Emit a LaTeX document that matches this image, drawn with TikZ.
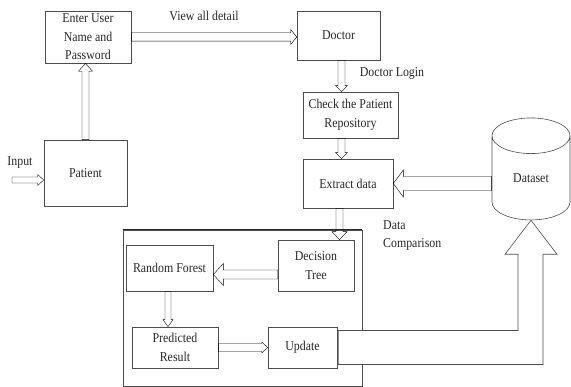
\documentclass[tikz,border=0pt]{standalone}
\usepackage{fontspec}
\setmainfont{Liberation Serif}[FakeStretch=0.88]
\usetikzlibrary{calc,shapes.geometric}

\begin{document}
\begin{tikzpicture}[x=1pt,y=-1pt,every node/.style={font=\fontsize{13.5}{18.5}\selectfont, text=black!85, align=center, inner sep=0pt},box/.style 2 args={draw=black!70, line width=.6pt, minimum width=#1pt, minimum height=#2pt},hollow/.style n args={3}{draw=black!70, line width=.6pt, fill=white, to path={($(\tikztotarget)!#3!(\tikztostart)$) coordinate (hb) ($(\tikztostart)!#1!90:(\tikztotarget)$) -- ($(hb)!#1!-90:(\tikztostart)$) -- ($(hb)!#2!-90:(\tikztostart)$) -- (\tikztotarget) -- ($(hb)!#2!90:(\tikztostart)$) -- ($(hb)!#1!90:(\tikztostart)$) -- ($(\tikztostart)!#1!-90:(\tikztotarget)$) -- cycle}}]
\useasboundingbox (0,0) rectangle (571,387);
% boxes
\node[box={86}{52}] (login) at (88,37) {Enter User\\Name and\\Password};
\node[box={83}{66}] (patient) at (85.5,173) {Patient};
\node[box={83}{49}] (doctor) at (338.5,35.5) {Doctor};
\node[box={95}{46}] (check) at (350.5,115) {Check the Patient\\Repository};
\node[box={90}{49}] (extract) at (348,183.5) {Extract data};
\node[draw=black!70, line width=.6pt, cylinder, shape border rotate=90, aspect=1, minimum width=78pt, minimum height=102pt] (dataset) at (531,178) {Dataset};
\node[box={239}{156}] (mlbox) at (242.5,308) {};
\draw[line width=1pt, black!85] (mlbox.north west) -- (mlbox.north east);
\node[box={76}{51}] (dtree) at (316,265.5) {Decision\\Tree};
\node[box={87}{46}] (rforest) at (169.5,268) {Random Forest};
\node[box={86}{41}] (predicted) at (175,347.5) {Predicted\\Result};
\node[box={69}{41}] (update) at (302.5,347.5) {Update};
% labels
\node (inlbl) at (20,163) {Input};
\node (viewlbl) at (204,16) {View all detail};
\node (loginlbl) at (392,73) {Doctor Login};
\node[align=left, anchor=west] (cmplbl) at (383,235.5) {Data\\Comparison};
% arrow ends
\coordinate (in) at (12,180);
\coordinate (pin) at (in -| patient.west);
\coordinate (p2) at (patient.north |- login.south);
\coordinate (l2) at (login.east -| doctor.west);
\coordinate (d1) at ([xshift=3pt]doctor.south);
\coordinate (d2) at (d1 |- check.north);
\coordinate (c1) at (d1 |- check.south);
\coordinate (c2) at (d1 |- extract.north);
\coordinate (s1) at (dataset.west |- extract.east);
\coordinate (e1) at ([xshift=-8.5pt]extract.south);
\coordinate (e2) at (e1 |- dtree.north);
\coordinate (t1) at ([yshift=-9pt]dtree.west);
\coordinate (t2) at (t1 -| rforest.east);
\coordinate (r1) at ([xshift=-1.5pt]rforest.south);
\coordinate (r2) at (r1 |- predicted.north);
\coordinate (u2) at (predicted.east -| update.west);
% arrows
\draw (in) to[hollow={3pt}{5.5pt}{6pt}] (pin);
\draw (patient.north) to[hollow={3.5pt}{7pt}{8pt}] (p2);
\draw (login.east) to[hollow={4.2pt}{7.5pt}{6pt}] (l2);
\draw (d1) to[hollow={3.5pt}{6pt}{6pt}] (d2);
\draw (c1) to[hollow={3.5pt}{6pt}{6pt}] (c2);
\draw (s1) to[hollow={7pt}{13.5pt}{10pt}] (extract.east);
\draw (e1) to[hollow={3.5pt}{7.5pt}{8pt}] (e2);
\draw (t1) to[hollow={4.5pt}{11pt}{10pt}] (t2);
\draw (r1) to[hollow={3pt}{5pt}{7pt}] (r2);
\draw (predicted.east) to[hollow={4pt}{5.5pt}{6pt}] (u2);
\draw[draw=black!70, line width=.6pt, fill=white] ([shift={(1pt,17pt)}]update.east) coordinate (u1)
 -- ([xshift=-13pt]dataset.south |- u1)
 -- ([shift={(-13pt,-34pt)}]dataset.south)
 -- ([shift={(-26pt,-34pt)}]dataset.south)
 -- (dataset.south)
 -- ([shift={(26pt,-34pt)}]dataset.south)
 -- ([shift={(12pt,-34pt)}]dataset.south)
 -- ([shift={(12pt,-17pt)}]dataset.south |- update.east)
 -- ([shift={(1pt,-17pt)}]update.east) -- cycle;
\end{tikzpicture}
\end{document}
